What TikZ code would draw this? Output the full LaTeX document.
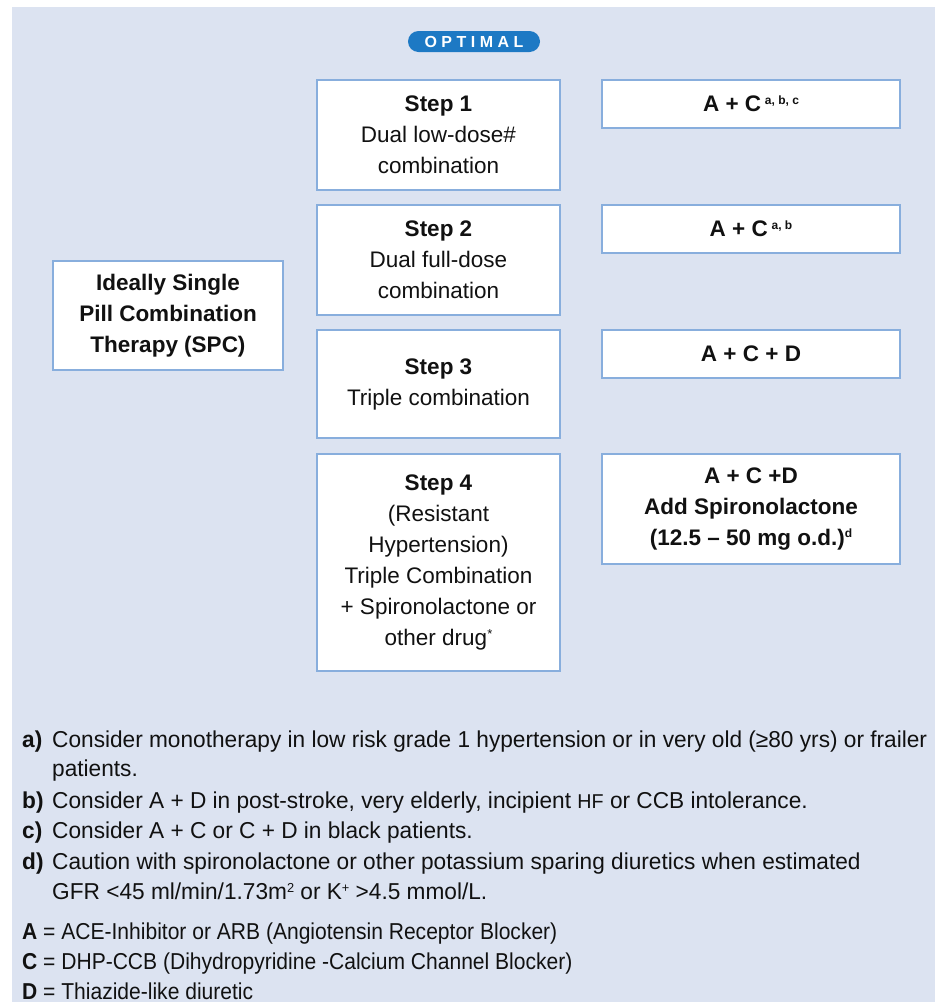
\documentclass[tikz,border=0pt]{standalone}
\usepackage{fontspec}
\setmainfont{Liberation Sans}
\newfontfamily\notefont[FakeStretch=0.985]{Liberation Sans}
\newfontfamily\keyfont[FakeStretch=0.915]{Liberation Sans}
\definecolor{bgc}{HTML}{DCE3F1}
\definecolor{pillc}{HTML}{1D79C4}
\definecolor{bordc}{HTML}{88AEDD}
\definecolor{txtc}{HTML}{111111}
\newcommand{\sps}[1]{\raisebox{7.5pt}{\fontsize{12}{12}\selectfont\bfseries #1}}
\newcommand{\spn}[1]{\raisebox{7pt}{\fontsize{13}{13}\selectfont #1}}
\begin{document}
\begin{tikzpicture}[x=1pt,y=-1pt,
  box/.style={draw=bordc, line width=1.5pt, fill=white, align=center, text=txtc,
    font=\fontsize{22.5}{31}\selectfont, inner sep=0pt},
  pill/.style={fill=pillc, rounded corners=10.5pt, text=white, inner sep=0pt,
    minimum width=132pt, minimum height=21pt, font=\fontsize{16}{16}\selectfont\bfseries},
  note/.style={anchor=base west, inner sep=0pt, text=txtc, font=\notefont\fontsize{23}{30}\selectfont},
  keyl/.style={anchor=base west, inner sep=0pt, text=txtc, font=\keyfont\fontsize{23}{30}\selectfont},
  lab/.style={anchor=base west, inner sep=0pt, text=txtc, font=\notefont\fontsize{23}{30}\selectfont\bfseries}]
\useasboundingbox (0,0) rectangle (935,1002);
\fill[bgc] (12,7) rectangle (935,1002);

\node[pill] (opt) at (474,41.5) {O\hspace{4.5pt}P\hspace{4.5pt}T\hspace{4.5pt}I\hspace{4.5pt}M\hspace{4.5pt}A\hspace{4.5pt}L};

\node[box, minimum width=243pt, minimum height=110pt] (s1) at (438.5,135)
  {\textbf{Step 1}\\Dual low-dose\#\\combination};
\node[box, minimum width=243pt, minimum height=110pt] (s2) at (438.5,260)
  {\textbf{Step 2}\\Dual full-dose\\combination};
\node[box, minimum width=243pt, minimum height=108pt] (s3) at (438.5,384)
  {\textbf{Step 3}\\Triple combination};
\node[box, minimum width=243pt, minimum height=217pt] (s4) at (438.5,562.5)
  {\textbf{Step 4}\\(Resistant\\Hypertension)\\Triple Combination\\+ Spironolactone or\\other drug\spn{*}};

\node[box, minimum width=298pt, minimum height=48pt] (r1) at (751,104)
  {\textbf{A + C\,\sps{a, b, c}}};
\node[box, minimum width=298pt, minimum height=48pt] (r2) at (751,229)
  {\textbf{A + C\,\sps{a, b}}};
\node[box, minimum width=298pt, minimum height=48pt] (r3) at (751,354)
  {\textbf{A + C + D}};
\node[box, minimum width=298pt, minimum height=110pt] (r4) at (751,509)
  {\textbf{A + C +D}\\\textbf{Add Spironolactone}\\\textbf{(12.5 -- 50 mg o.d.)\sps{d}}};

\node[box, minimum width=230pt, minimum height=109pt] (spc) at (168,315.5)
  {\textbf{Ideally Single}\\\textbf{Pill Combination}\\\textbf{Therapy (SPC)}};

\node[lab] (la) at (22,747) {a)};
\node[note] (na1) at (52,747) {Consider monotherapy in low risk grade 1 hypertension or in very old (≥80 yrs) or frailer};
\node[note] (na2) at (52,776) {patients.};
\node[lab] (lb) at (22,808) {b)};
\node[note] (nb) at (52,808) {Consider A + D in post-stroke, very elderly, incipient {\fontsize{20}{30}\selectfont HF} or CCB intolerance.};
\node[lab] (lc) at (22,838) {c)};
\node[note] (nc) at (52,838) {Consider A + C or C + D in black patients.};
\node[lab] (ld) at (22,869) {d)};
\node[note] (nd1) at (52,869) {Caution with spironolactone or other potassium sparing diuretics when estimated};
\node[note] (nd2) at (52,899) {GFR <45 ml/min/1.73m\spn{2} or K\spn{+} >4.5 mmol/L.};

\node[keyl] (ka) at (22,939) {\textbf{A} = ACE-Inhibitor or ARB (Angiotensin Receptor Blocker)};
\node[keyl] (kc) at (22,969) {\textbf{C} = DHP-CCB (Dihydropyridine -Calcium Channel Blocker)};
\node[keyl] (kd) at (22,999) {\textbf{D} = Thiazide-like diuretic};
\end{tikzpicture}
\end{document}
